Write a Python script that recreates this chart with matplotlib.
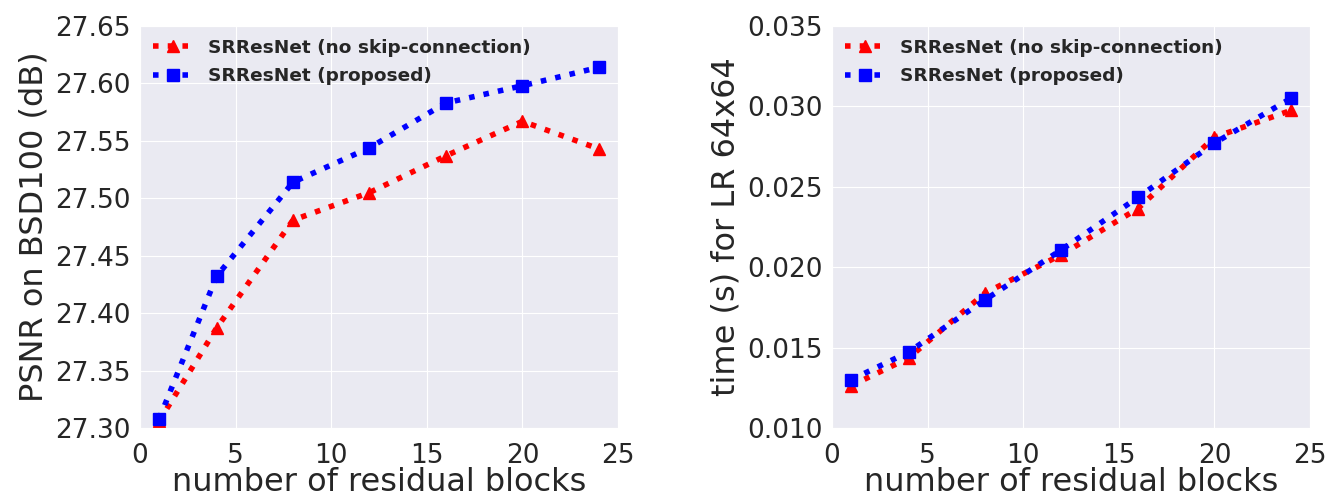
import numpy as np
import matplotlib
matplotlib.use("Agg")
import matplotlib.pyplot as plt
import seaborn as sns

sns.set_style("darkgrid")
plt.rcParams['font.family'] = ['DejaVu Sans']

blocks = [1, 4, 8, 12, 16, 20, 24]
psnr_noskip = [27.306, 27.387, 27.481, 27.505, 27.537, 27.567, 27.543]
psnr_prop = [27.308, 27.432, 27.514, 27.544, 27.583, 27.598, 27.614]
time_noskip = [0.01263, 0.01435, 0.01839, 0.02078, 0.02365, 0.02808, 0.02975]
time_prop = [0.01300, 0.01472, 0.01797, 0.02109, 0.02434, 0.02772, 0.03050]
labels = ['SRResNet (no skip-connection)', 'SRResNet (proposed)']

fig = plt.figure(figsize=(13.3, 4.99), dpi=100)
ax1 = fig.add_axes([0.1053, 0.1423, 0.3594, 0.8056])
ax2 = fig.add_axes([0.6256, 0.1423, 0.3594, 0.8056])

def draw(ax, a, b, ylabel, ylim, yticks, fmt):
    ax.plot(blocks, a, ':', color='red', marker='^', ms=9, lw=4, label=labels[0])
    ax.plot(blocks, b, ':', color='blue', marker='s', ms=8.5, lw=4, label=labels[1])
    ax.set_xlim(0, 25)
    ax.set_ylim(*ylim)
    ax.set_yticks(yticks)
    ax.set_yticklabels([fmt % v for v in yticks])
    ax.set_xticks([0, 5, 10, 15, 20, 25])
    ax.tick_params(labelsize=19, colors='#262626')
    ax.tick_params(axis='x', pad=7)
    ax.set_xlabel('number of residual blocks', fontsize=23, color='#262626', labelpad=-1)
    ax.set_ylabel(ylabel, fontsize=23, color='#262626')
    ax.legend(loc='upper left', frameon=False, prop={'weight': 'bold', 'size': 13.3},
              handlelength=2.2, borderaxespad=0.3, labelspacing=0.55)

draw(ax1, psnr_noskip, psnr_prop, 'PSNR on BSD100 (dB)', (27.30, 27.65),
     np.arange(27.30, 27.651, 0.05), '%.2f')
draw(ax2, time_noskip, time_prop, 'time (s) for LR 64x64', (0.010, 0.035),
     np.arange(0.010, 0.0351, 0.005), '%.3f')

plt.savefig('out.png', dpi=100)
plt.close(fig)
